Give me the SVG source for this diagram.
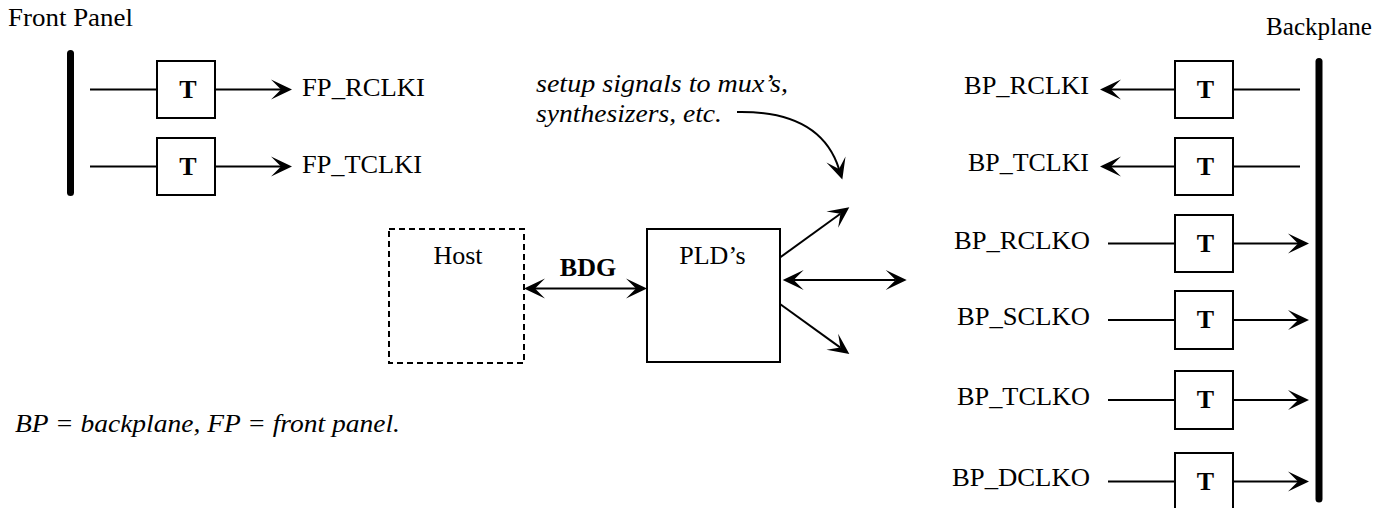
<svg xmlns="http://www.w3.org/2000/svg" width="1390" height="508" viewBox="0 0 1390 508">
<style>
text{font-family:"Liberation Serif","Times New Roman",serif;font-size:26px;fill:#000}
.it{font-style:italic}
.b{font-weight:bold}
.box{fill:#fff;stroke:#000;stroke-width:2}
.host{fill:#fff;stroke:#000;stroke-width:2;stroke-dasharray:6 4}
.ln{fill:none;stroke:#000;stroke-width:2}
.arr{fill:none;stroke:#000;stroke-width:2;marker-end:url(#ah)}
.dbl{fill:none;stroke:#000;stroke-width:2;marker-end:url(#ah);marker-start:url(#ahs)}
.bar{fill:none;stroke:#000;stroke-width:7;stroke-linecap:round}
</style>
<defs>
<marker id="ah" markerUnits="userSpaceOnUse" viewBox="-12 -12 24 24" markerWidth="24" markerHeight="24" refX="0" refY="0" orient="auto" overflow="visible"><path d="M11,0 L-10,-10 L0,0 L-10,10 Z" fill="#000"/></marker>
<marker id="ahs" markerUnits="userSpaceOnUse" viewBox="-12 -12 24 24" markerWidth="24" markerHeight="24" refX="0" refY="0" orient="auto-start-reverse" overflow="visible"><path d="M11,0 L-10,-10 L0,0 L-10,10 Z" fill="#000"/></marker>
</defs>

<g id="front-panel">
<text x="8" y="26" textLength="125" lengthAdjust="spacingAndGlyphs">Front Panel</text>
<line class="bar" x1="70.5" y1="53.5" x2="70.5" y2="192.5"/>
</g>
<g id="backplane">
<text x="1372" y="35" text-anchor="end" textLength="106" lengthAdjust="spacingAndGlyphs">Backplane</text>
<line class="bar" x1="1319" y1="61.5" x2="1319" y2="499"/>
</g>

<g id="connectors">
<line class="ln" x1="90" y1="89.5" x2="157" y2="89.5"/>
<line class="arr" x1="215" y1="89.5" x2="281" y2="89.5"/>
<line class="ln" x1="90" y1="166.5" x2="157" y2="166.5"/>
<line class="arr" x1="215" y1="166.5" x2="281" y2="166.5"/>

<line class="ln" x1="1233" y1="89.5" x2="1300" y2="89.5"/>
<line class="arr" x1="1175" y1="89.5" x2="1111" y2="89.5"/>
<line class="ln" x1="1233" y1="166.5" x2="1300" y2="166.5"/>
<line class="arr" x1="1175" y1="166.5" x2="1111" y2="166.5"/>

<line class="ln" x1="1108" y1="243.5" x2="1175" y2="243.5"/>
<line class="arr" x1="1233" y1="243.5" x2="1298" y2="243.5"/>
<line class="ln" x1="1108" y1="320" x2="1175" y2="320"/>
<line class="arr" x1="1233" y1="320" x2="1298" y2="320"/>
<line class="ln" x1="1108" y1="400" x2="1175" y2="400"/>
<line class="arr" x1="1233" y1="400" x2="1298" y2="400"/>
<line class="ln" x1="1108" y1="481.5" x2="1175" y2="481.5"/>
<line class="arr" x1="1233" y1="481.5" x2="1298" y2="481.5"/>

<line class="dbl" x1="535" y1="288.5" x2="636" y2="288.5"/>
<line class="arr" x1="780" y1="257.5" x2="840.4" y2="213.7"/>
<line class="dbl" x1="793.7" y1="280" x2="895.7" y2="280"/>
<line class="arr" x1="780" y1="304" x2="840.4" y2="347.6"/>
<path class="arr" d="M737,112 C790,111 826,128 839,169"/>
</g>

<g id="t-fp1"><rect class="box" x="157" y="61" width="58" height="57"/><text class="b" x="188" y="97.5" text-anchor="middle">T</text></g>
<g id="t-fp2"><rect class="box" x="157" y="138" width="58" height="57"/><text class="b" x="188" y="174.5" text-anchor="middle">T</text></g>
<g id="t-bp1"><rect class="box" x="1175" y="61" width="58" height="57"/><text class="b" x="1205.5" y="97.5" text-anchor="middle">T</text></g>
<g id="t-bp2"><rect class="box" x="1175" y="138" width="58" height="57"/><text class="b" x="1205.5" y="174.5" text-anchor="middle">T</text></g>
<g id="t-bp3"><rect class="box" x="1175" y="215" width="58" height="57"/><text class="b" x="1205.5" y="251.5" text-anchor="middle">T</text></g>
<g id="t-bp4"><rect class="box" x="1175" y="291" width="58" height="58"/><text class="b" x="1205.5" y="328" text-anchor="middle">T</text></g>
<g id="t-bp5"><rect class="box" x="1175" y="371" width="58" height="58"/><text class="b" x="1205.5" y="408" text-anchor="middle">T</text></g>
<g id="t-bp6"><rect class="box" x="1175" y="453" width="58" height="58"/><text class="b" x="1205.5" y="489.5" text-anchor="middle">T</text></g>

<g id="labels-fp">
<text x="302" y="96" textLength="123" lengthAdjust="spacingAndGlyphs">FP_RCLKI</text>
<text x="302" y="173" textLength="120" lengthAdjust="spacingAndGlyphs">FP_TCLKI</text>
</g>
<g id="labels-bp">
<text x="1089" y="94" text-anchor="end" textLength="125" lengthAdjust="spacingAndGlyphs">BP_RCLKI</text>
<text x="1089" y="171" text-anchor="end" textLength="121" lengthAdjust="spacingAndGlyphs">BP_TCLKI</text>
<text x="1090" y="248.5" text-anchor="end" textLength="136" lengthAdjust="spacingAndGlyphs">BP_RCLKO</text>
<text x="1090" y="324.5" text-anchor="end" textLength="133" lengthAdjust="spacingAndGlyphs">BP_SCLKO</text>
<text x="1090" y="404.5" text-anchor="end" textLength="133" lengthAdjust="spacingAndGlyphs">BP_TCLKO</text>
<text x="1090" y="486" text-anchor="end" textLength="138" lengthAdjust="spacingAndGlyphs">BP_DCLKO</text>
</g>

<g id="host"><rect class="host" x="389" y="229" width="135" height="134"/><text x="458" y="263.5" text-anchor="middle">Host</text></g>
<g id="bdg-label"><text class="b" x="588" y="276" text-anchor="middle">BDG</text></g>
<g id="plds"><rect class="box" x="647" y="229" width="133" height="133"/><text x="712.5" y="263.5" text-anchor="middle">PLD’s</text></g>

<g id="note">
<text class="it" x="536" y="92" textLength="252" lengthAdjust="spacingAndGlyphs">setup signals to mux’s,</text>
<text class="it" x="536" y="122" textLength="186" lengthAdjust="spacingAndGlyphs">synthesizers, etc.</text>
</g>
<g id="legend"><text class="it" x="15" y="432" textLength="385" lengthAdjust="spacingAndGlyphs">BP = backplane, FP = front panel.</text></g>
</svg>
